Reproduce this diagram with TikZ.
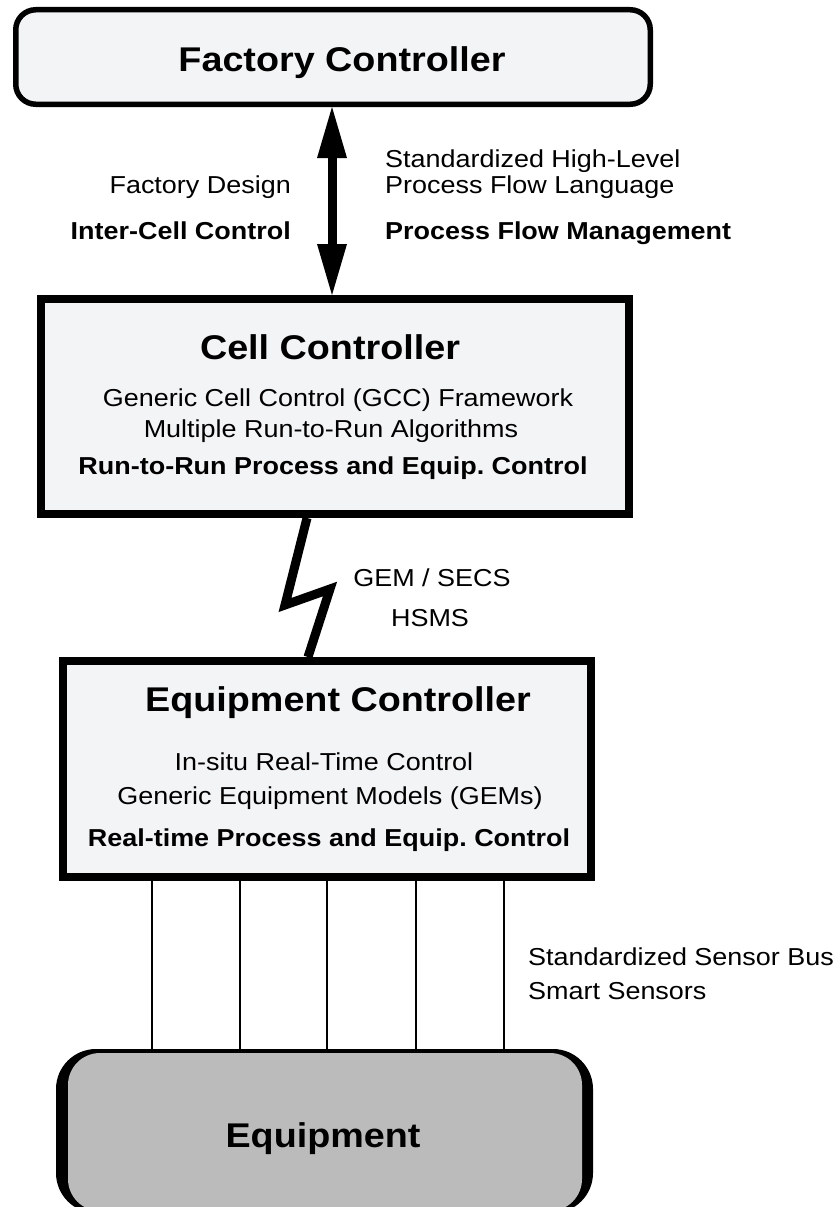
\documentclass[tikz,border=0pt]{standalone}
\usepackage{fontspec}
\setmainfont{Liberation Sans}[FakeStretch=1.1]
\usetikzlibrary{arrows.meta}
\definecolor{boxfill}{HTML}{F3F4F6}
\definecolor{eqfill}{HTML}{BBBBBB}
\frenchspacing
\tikzset{
  ctlbox/.style={draw, fill=boxfill, line width=8pt, inner sep=0pt},
  roundbox/.style={draw, fill=boxfill, line width=5.5pt, rounded corners=20pt, inner sep=0pt},
  ttl/.style={font=\fontsize{34.3}{40}\selectfont\bfseries, anchor=base, inner sep=0pt},
  txt/.style={font=\fontsize{24.5}{28}\selectfont, anchor=base, inner sep=0pt},
  btxt/.style={font=\fontsize{24.5}{28}\selectfont\bfseries, anchor=base, inner sep=0pt},
  dblarrow/.style={line width=9pt, {Triangle[length=51pt,width=30pt,line width=0pt]}-{Triangle[length=51pt,width=30pt,line width=0pt]}},
  bolt/.style={line width=9pt, line join=miter, miter limit=10},
  sensor/.style={line width=2.2pt}
}
\begin{document}
\frenchspacing
\begin{tikzpicture}[x=1pt,y=-1pt]
\useasboundingbox (0,0) rectangle (834,1207);
\fill[white] (0,0) rectangle (834,1207);

% boxes
\node[roundbox, minimum width=634.5pt, minimum height=94.5pt] (fc) at (333,57) {};
\node[ctlbox, minimum width=588pt, minimum height=215pt] (cc) at (335,406.5) {};
\node[ctlbox, minimum width=528pt, minimum height=216pt] (ec) at (327,769) {};
\node[fill=black, rounded corners=40pt, minimum width=537pt, minimum height=164pt, inner sep=0pt] (eqs) at (324.5,1131) {};
\node[fill=eqfill, rounded corners=32pt, minimum width=514pt, minimum height=158pt, inner sep=0pt] (eq) at (325,1132) {};

% titles
\node[ttl] (fct) at (342,71) {Factory Controller};
\node[ttl] (cct) at (330,359) {Cell Controller};
\node[ttl] (ect) at (338,711) {Equipment Controller};
\node[ttl] (eqt) at (323,1147) {Equipment};

% arrow labels
\node[txt, anchor=base east] (fd) at (291,193) {Factory Design};
\node[btxt, anchor=base east] (icc) at (291,239) {Inter-Cell Control};
\node[txt, anchor=base west] (shl) at (385,167) {Standardized High-Level};
\node[txt, anchor=base west] (pfl) at (385,193) {Process Flow Language};
\node[btxt, anchor=base west] (pfm) at (385,239) {Process Flow Management};

% cell controller text
\node[txt] (gcc) at (338,406) {Generic Cell Control (GCC) Framework};
\node[txt] (mrr) at (331,437) {Multiple Run-to-Run Algorithms};
\node[btxt] (rrp) at (333,474) {Run-to-Run Process and Equip. Control};

% bolt labels
\node[txt] (gem) at (432,586) {GEM / SECS};
\node[txt] (hsms) at (430,626) {HSMS};

% equipment controller text
\node[txt] (irt) at (324,770) {In-situ Real-Time Control};
\node[txt] (gems) at (330,804) {Generic Equipment Models (GEMs)};
\node[btxt] (rtp) at (329,846.5) {Real-time Process and Equip. Control};

% sensor labels
\node[txt, anchor=base west] (ssb) at (528,965) {Standardized Sensor Bus};
\node[txt, anchor=base west] (sms) at (528,999) {Smart Sensors};

% connectors
\coordinate (ax) at (332,0);
\draw[dblarrow] (fc.south -| ax) -- (cc.north -| ax);

\coordinate (b1) at (307,0);
\coordinate (b2) at (285,605);
\coordinate (b3) at (330,589);
\coordinate (b4) at (308,0);
\draw[bolt] (cc.south -| b1) -- (b2) -- (b3) -- (ec.north -| b4);

\foreach \i/\xx in {1/152,2/240,3/327,4/416,5/504}{
  \coordinate (s\i) at (\xx,0);
  \draw[sensor] (ec.south -| s\i) -- (eqs.north -| s\i);
}
\end{tikzpicture}
\end{document}
